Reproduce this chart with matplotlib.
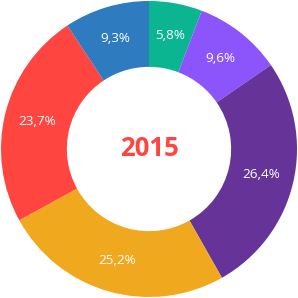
import matplotlib
matplotlib.use("Agg")
import matplotlib.pyplot as plt
import numpy as np

values = [5.8, 9.6, 26.4, 25.2, 23.7, 9.3]
labels = ["5,8%", "9,6%", "26,4%", "25,2%", "23,7%", "9,3%"]
colors = ["#0bb592", "#8b55fb", "#663399", "#f0a91e", "#ff4540", "#2e7bbf"]
center_label = "2015"

fig = plt.figure(figsize=(2.98, 2.98), dpi=100)
ax = fig.add_axes([0, 0, 1, 1])
ax.set_aspect("equal")
R = 148 / 149
wedges, _ = ax.pie(values, colors=colors, startangle=90, counterclock=False,
                   radius=R, wedgeprops=dict(width=R * 0.445, linewidth=0))
for w, lab in zip(wedges, labels):
    ang = np.deg2rad((w.theta1 + w.theta2) / 2)
    r = R * 0.78
    ax.text(r * np.cos(ang), r * np.sin(ang), lab, ha="center", va="center",
            color="white", fontsize=9.7, family="Open Sans")
ax.text(0, 0, center_label, ha="center", va="center", color="#ff4540",
        fontsize=18.5, fontweight="bold", family="Open Sans")
ax.set_xlim(-1, 1)
ax.set_ylim(-1, 1)
ax.axis("off")
fig.savefig("out.png", dpi=100)
